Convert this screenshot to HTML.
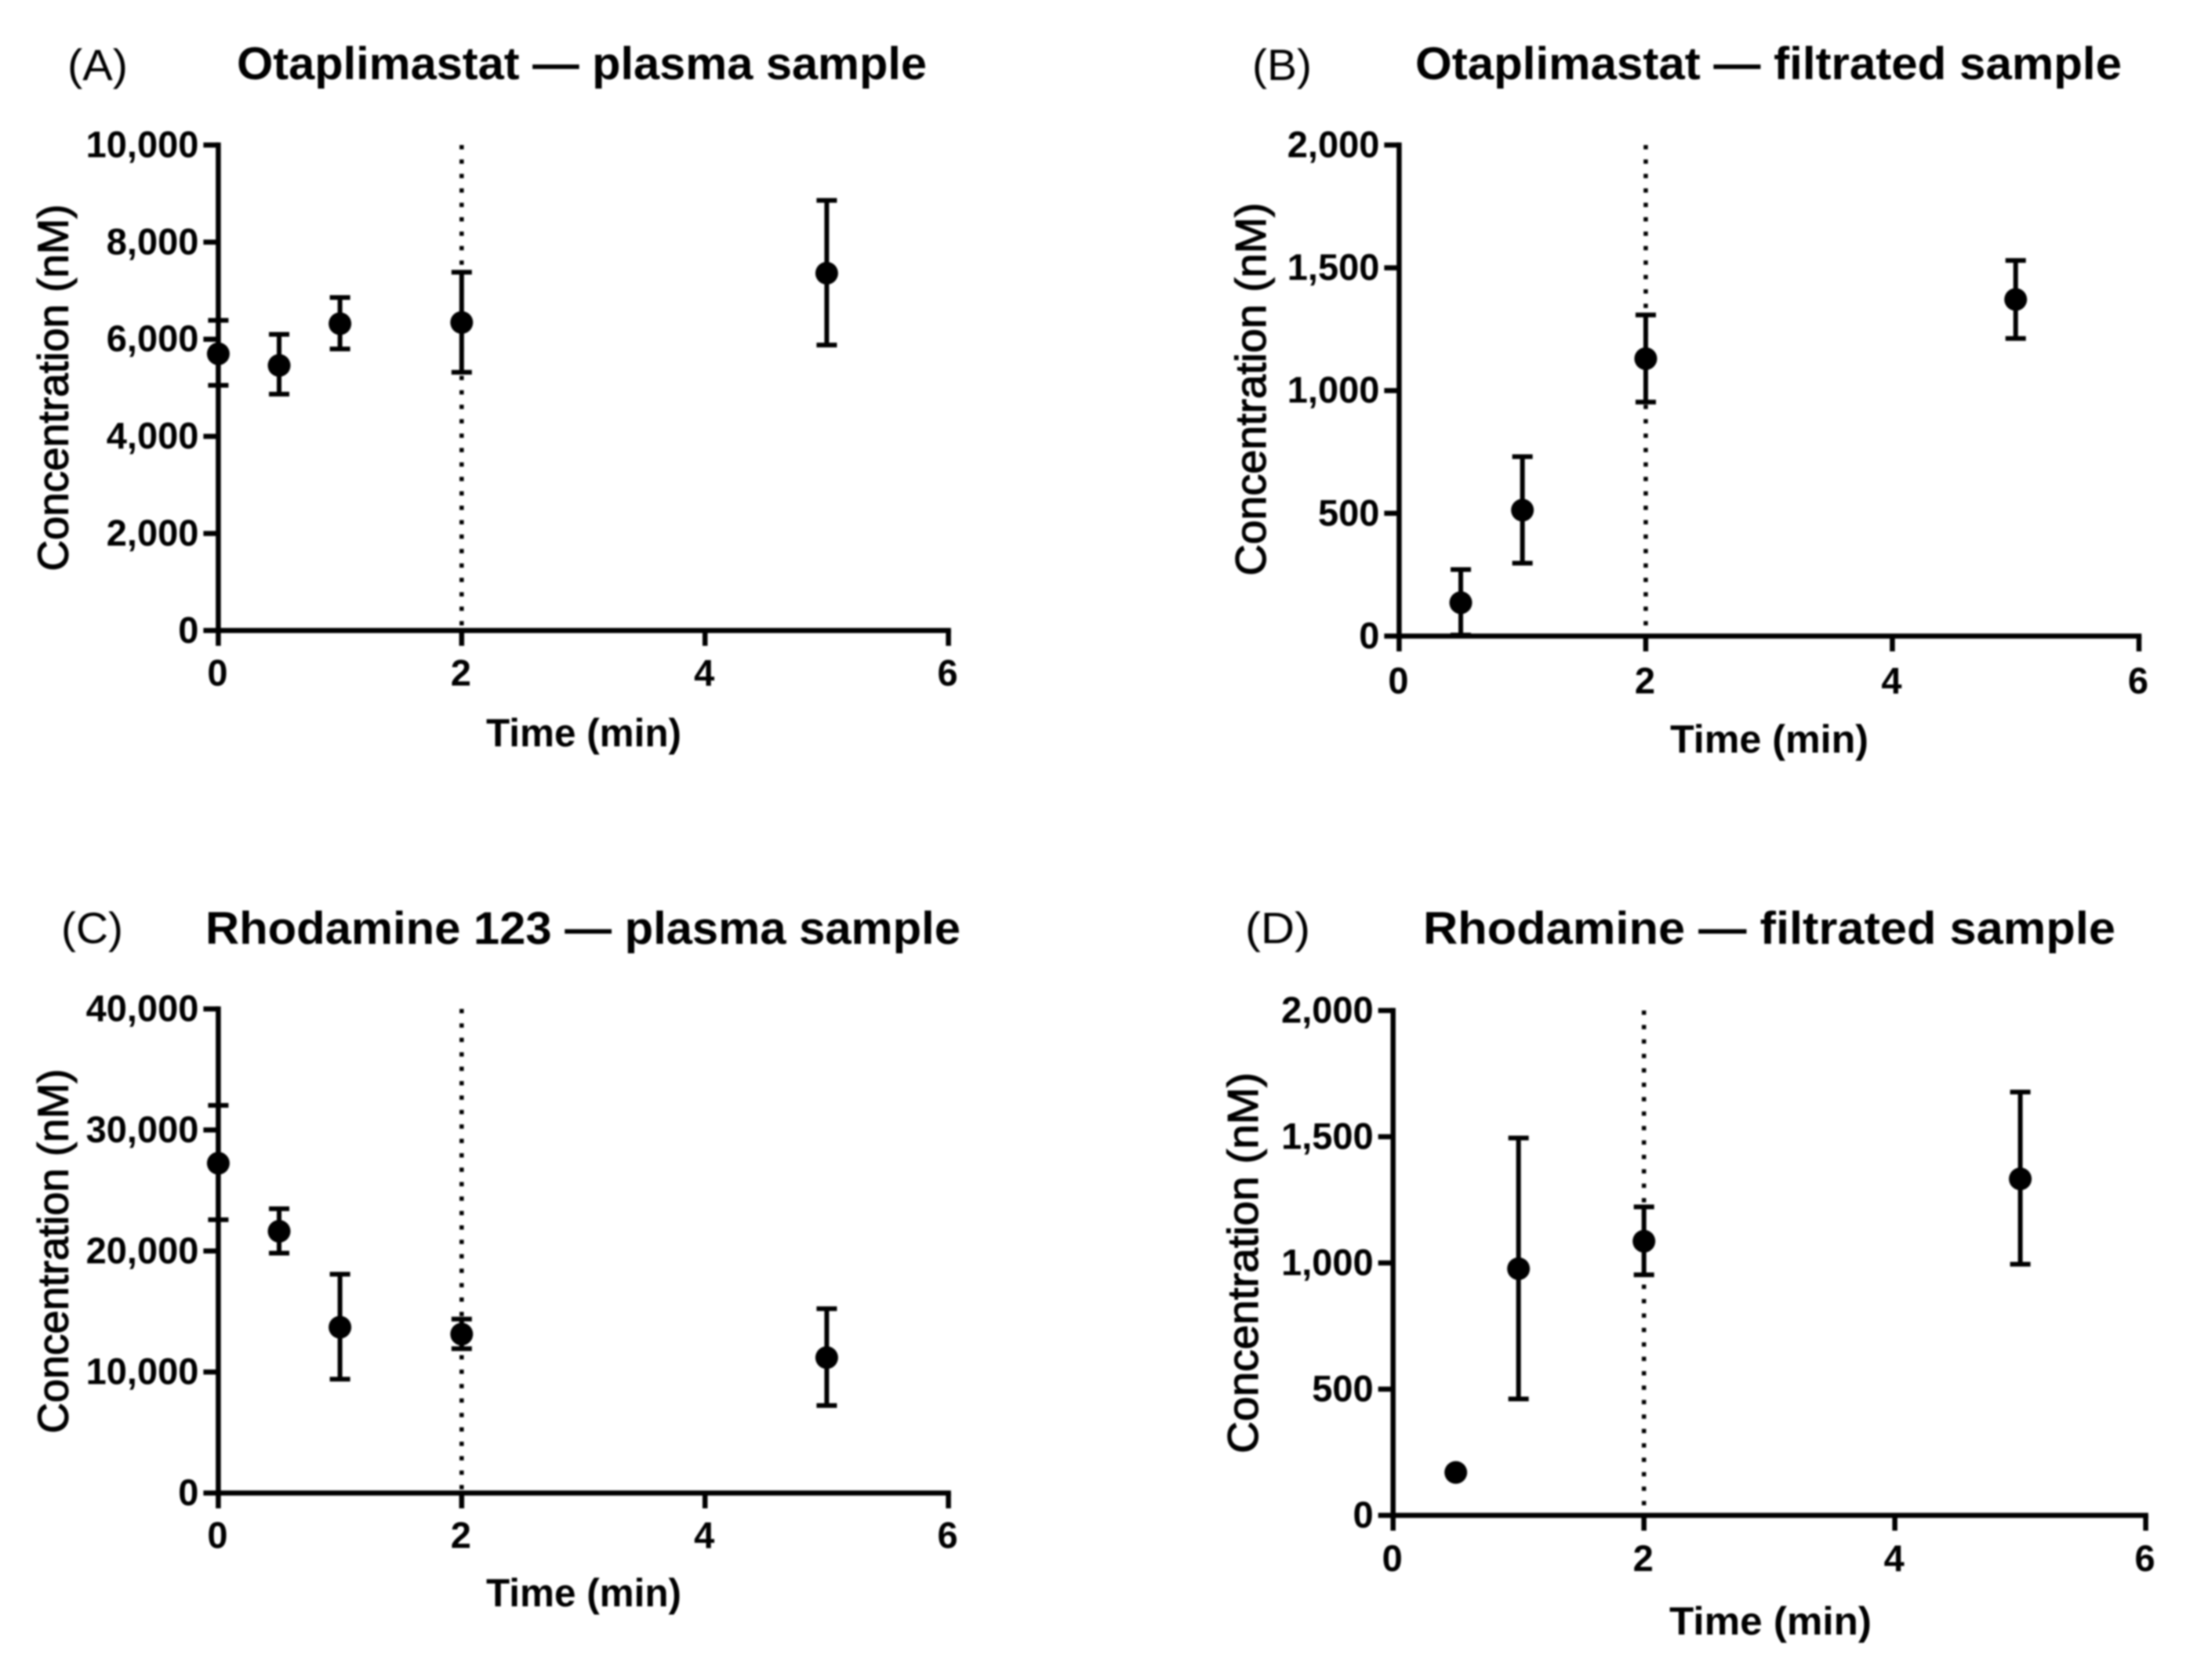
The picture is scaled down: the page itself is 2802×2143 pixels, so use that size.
<!DOCTYPE html>
<html lang="en">
<head>
<meta charset="utf-8">
<title>Otaplimastat and Rhodamine 123 concentration over time</title>
<style>
  html, body { margin: 0; padding: 0; background: #fff; }
  body { width: 2802px; height: 2143px; overflow: hidden; }
  svg { display: block; filter: blur(1px); }
  text { font-family: "Liberation Sans", Arial, sans-serif; fill: #000; }
  .title { font-weight: 700; font-size: 58px; }
  .panel { font-weight: 400; font-size: 56px; }
  .ylab { font-weight: 400; font-size: 55px; stroke: #000; stroke-width: 1.2px; }
  .xlab { font-weight: 700; font-size: 50px; }
  .tick { font-weight: 700; font-size: 47px; }
</style>
</head>
<body>
<svg id="figure" xmlns="http://www.w3.org/2000/svg" width="2802" height="2143" viewBox="0 0 2802 2143">
  <rect x="0" y="0" width="2802" height="2143" fill="#fff"/>

  <text class="panel" x="86" y="102" textLength="77" lengthAdjust="spacingAndGlyphs">(A)</text>
  <text class="title" x="302" y="101" textLength="880" lengthAdjust="spacingAndGlyphs">Otaplimastat — plasma sample</text>
  <text class="ylab" transform="translate(86.5 494.5) rotate(-90)" text-anchor="middle" textLength="468" lengthAdjust="spacingAndGlyphs">Concentration (nM)</text>
  <text class="xlab" x="620" y="952" textLength="249" lengthAdjust="spacingAndGlyphs">Time (min)</text>
  <g id="panel-a"></g>

  <text class="panel" x="1597" y="102" textLength="76" lengthAdjust="spacingAndGlyphs">(B)</text>
  <text class="title" x="1805" y="101" textLength="901" lengthAdjust="spacingAndGlyphs">Otaplimastat — filtrated sample</text>
  <text class="ylab" transform="translate(1614 496.5) rotate(-90)" text-anchor="middle" textLength="476" lengthAdjust="spacingAndGlyphs">Concentration (nM)</text>
  <text class="xlab" x="2130" y="960" textLength="253" lengthAdjust="spacingAndGlyphs">Time (min)</text>
  <g id="panel-b"></g>

  <text class="panel" x="78" y="1203" textLength="79" lengthAdjust="spacingAndGlyphs">(C)</text>
  <text class="title" x="262" y="1204" textLength="963" lengthAdjust="spacingAndGlyphs">Rhodamine 123 — plasma sample</text>
  <text class="ylab" transform="translate(86.5 1596) rotate(-90)" text-anchor="middle" textLength="465" lengthAdjust="spacingAndGlyphs">Concentration (nM)</text>
  <text class="xlab" x="620" y="2049" textLength="249" lengthAdjust="spacingAndGlyphs">Time (min)</text>
  <g id="panel-c"></g>

  <text class="panel" x="1588" y="1203" textLength="83" lengthAdjust="spacingAndGlyphs">(D)</text>
  <text class="title" x="1815" y="1204" textLength="883" lengthAdjust="spacingAndGlyphs">Rhodamine — filtrated sample</text>
  <text class="ylab" transform="translate(1604 1611) rotate(-90)" text-anchor="middle" textLength="486" lengthAdjust="spacingAndGlyphs">Concentration (nM)</text>
  <text class="xlab" x="2129" y="2085" textLength="258" lengthAdjust="spacingAndGlyphs">Time (min)</text>
  <g id="panel-d"></g>
</svg>

<script>
// Shared x axis
const xTicks = [0, 2, 4, 6];
const markerLine = [2];

// Panel A: Otaplimastat, plasma
const timesA = [0, 0.5, 1, 2, 5];
const meansA = [5700, 5460, 6320, 6345, 7360];
const upperA = [6390, 6100, 6860, 7380, 8860];
const lowerA = [5050, 4870, 5800, 5320, 5880];
const yTicksA = [0, 2000, 4000, 6000, 8000, 10000];
const yLabelsA = ['0', '2,000', '4,000', '6,000', '8,000', '10,000'];

// Panel B: Otaplimastat, filtrated
const timesB = [0.5, 1, 2, 5];
const meansB = [136, 513, 1130, 1371];
const upperB = [271, 731, 1308, 1530];
const lowerB = [4, 297, 953, 1212];
const yTicksB = [0, 500, 1000, 1500, 2000];
const yLabelsB = ['0', '500', '1,000', '1,500', '2,000'];

// Panel C: Rhodamine 123, plasma
const timesC = [0, 0.5, 1, 2, 5];
const meansC = [27250, 21630, 13700, 13130, 11190];
const upperC = [32030, 23490, 18080, 14370, 15230];
const lowerC = [22580, 19820, 9410, 11930, 7230];
const yTicksC = [0, 10000, 20000, 30000, 40000];
const yLabelsC = ['0', '10,000', '20,000', '30,000', '40,000'];

// Panel D: Rhodamine, filtrated (no visible error bar at 0.5 min)
const timesD = [0.5, 1, 2, 5];
const meansD = [170, 977, 1086, 1333];
const upperD = [null, 1495, 1222, 1677];
const lowerD = [null, 461, 953, 995];
const yTicksD = [0, 500, 1000, 1500, 2000];
const yLabelsD = ['0', '500', '1,000', '1,500', '2,000'];

const SVG_NS = 'http://www.w3.org/2000/svg';
const INK = '#000';
const AXIS_W = 6.5;

function make(tag, attrs, parent) {
  const el = document.createElementNS(SVG_NS, tag);
  for (const k in attrs) el.setAttribute(k, attrs[k]);
  parent.appendChild(el);
  return el;
}

function drawPanel(id, frame, times, means, upper, lower, yTicks, yLabels) {
  const root = document.getElementById(id);
  const xMax = xTicks[xTicks.length - 1];
  const yMax = yTicks[yTicks.length - 1];
  const xScale = v => frame.left + (v / xMax) * (frame.right - frame.left);
  const yScale = v => frame.bottom - (v / yMax) * (frame.bottom - frame.top);

  markerLine.forEach(v => {
    const dotted = make('line', { x1: xScale(v), x2: xScale(v), y1: yScale(yMax), y2: yScale(0), stroke: INK, 'stroke-width': 5.5, 'stroke-dasharray': '5.5 12.9' }, root);
    
    
  });

  yTicks.forEach((v, i) => {
    const tick = make('line', { x1: frame.left - 19, x2: frame.left, y1: yScale(v), y2: yScale(v), stroke: INK, 'stroke-width': AXIS_W }, root);
    
    
    const label = make('text', { class: 'tick', x: frame.left - 25, y: yScale(v) + 15.5, 'text-anchor': 'end' }, root);
    label.textContent = yLabels[i];
    
    
  });

  xTicks.forEach(v => {
    const tick = make('line', { x1: xScale(v), x2: xScale(v), y1: frame.bottom, y2: frame.bottom + 19.5, stroke: INK, 'stroke-width': AXIS_W }, root);
    
    
    const label = make('text', { class: 'tick', x: xScale(v) - 1, y: frame.bottom + frame.xLabelGap, 'text-anchor': 'middle' }, root);
    label.textContent = String(v);
    
    
  });

  const yAxis = make('line', { x1: frame.left, x2: frame.left, y1: yScale(yMax) - 3.25, y2: yScale(0) + 3.25, stroke: INK, 'stroke-width': AXIS_W }, root);
  
  
  const xAxis = make('line', { x1: xScale(0), x2: xScale(xMax) + 3.25, y1: yScale(0), y2: yScale(0), stroke: INK, 'stroke-width': AXIS_W }, root);
  
  

  times.forEach((t, i) => {
    const cx = xScale(t);
    if (upper[i] !== null && lower[i] !== null) {
      const stem = make('line', { x1: cx, x2: cx, y1: yScale(upper[i]), y2: yScale(lower[i]), stroke: INK, 'stroke-width': 6 }, root);
      
      
      const capTop = make('line', { x1: cx - 13, x2: cx + 13, y1: yScale(upper[i]), y2: yScale(upper[i]), stroke: INK, 'stroke-width': 6 }, root);
      
      
      const capBottom = make('line', { x1: cx - 13, x2: cx + 13, y1: yScale(lower[i]), y2: yScale(lower[i]), stroke: INK, 'stroke-width': 6 }, root);
      
      
    }
    const dot = make('circle', { cx: cx, cy: yScale(means[i]), r: 14.5, fill: INK }, root);
    
    
  });
}

drawPanel('panel-a', { left: 278.4, right: 1209.6, top: 185, bottom: 804.3, xLabelGap: 70 }, timesA, meansA, upperA, lowerA, yTicksA, yLabelsA);
drawPanel('panel-b', { left: 1784.4, right: 2728, top: 185, bottom: 811.4, xLabelGap: 73 }, timesB, meansB, upperB, lowerB, yTicksB, yLabelsB);
drawPanel('panel-c', { left: 278.4, right: 1209.6, top: 1287, bottom: 1904.5, xLabelGap: 70 }, timesC, meansC, upperC, lowerC, yTicksC, yLabelsC);
drawPanel('panel-d', { left: 1776.7, right: 2736.6, top: 1289, bottom: 1933, xLabelGap: 71 }, timesD, meansD, upperD, lowerD, yTicksD, yLabelsD);
</script>
</body>
</html>
